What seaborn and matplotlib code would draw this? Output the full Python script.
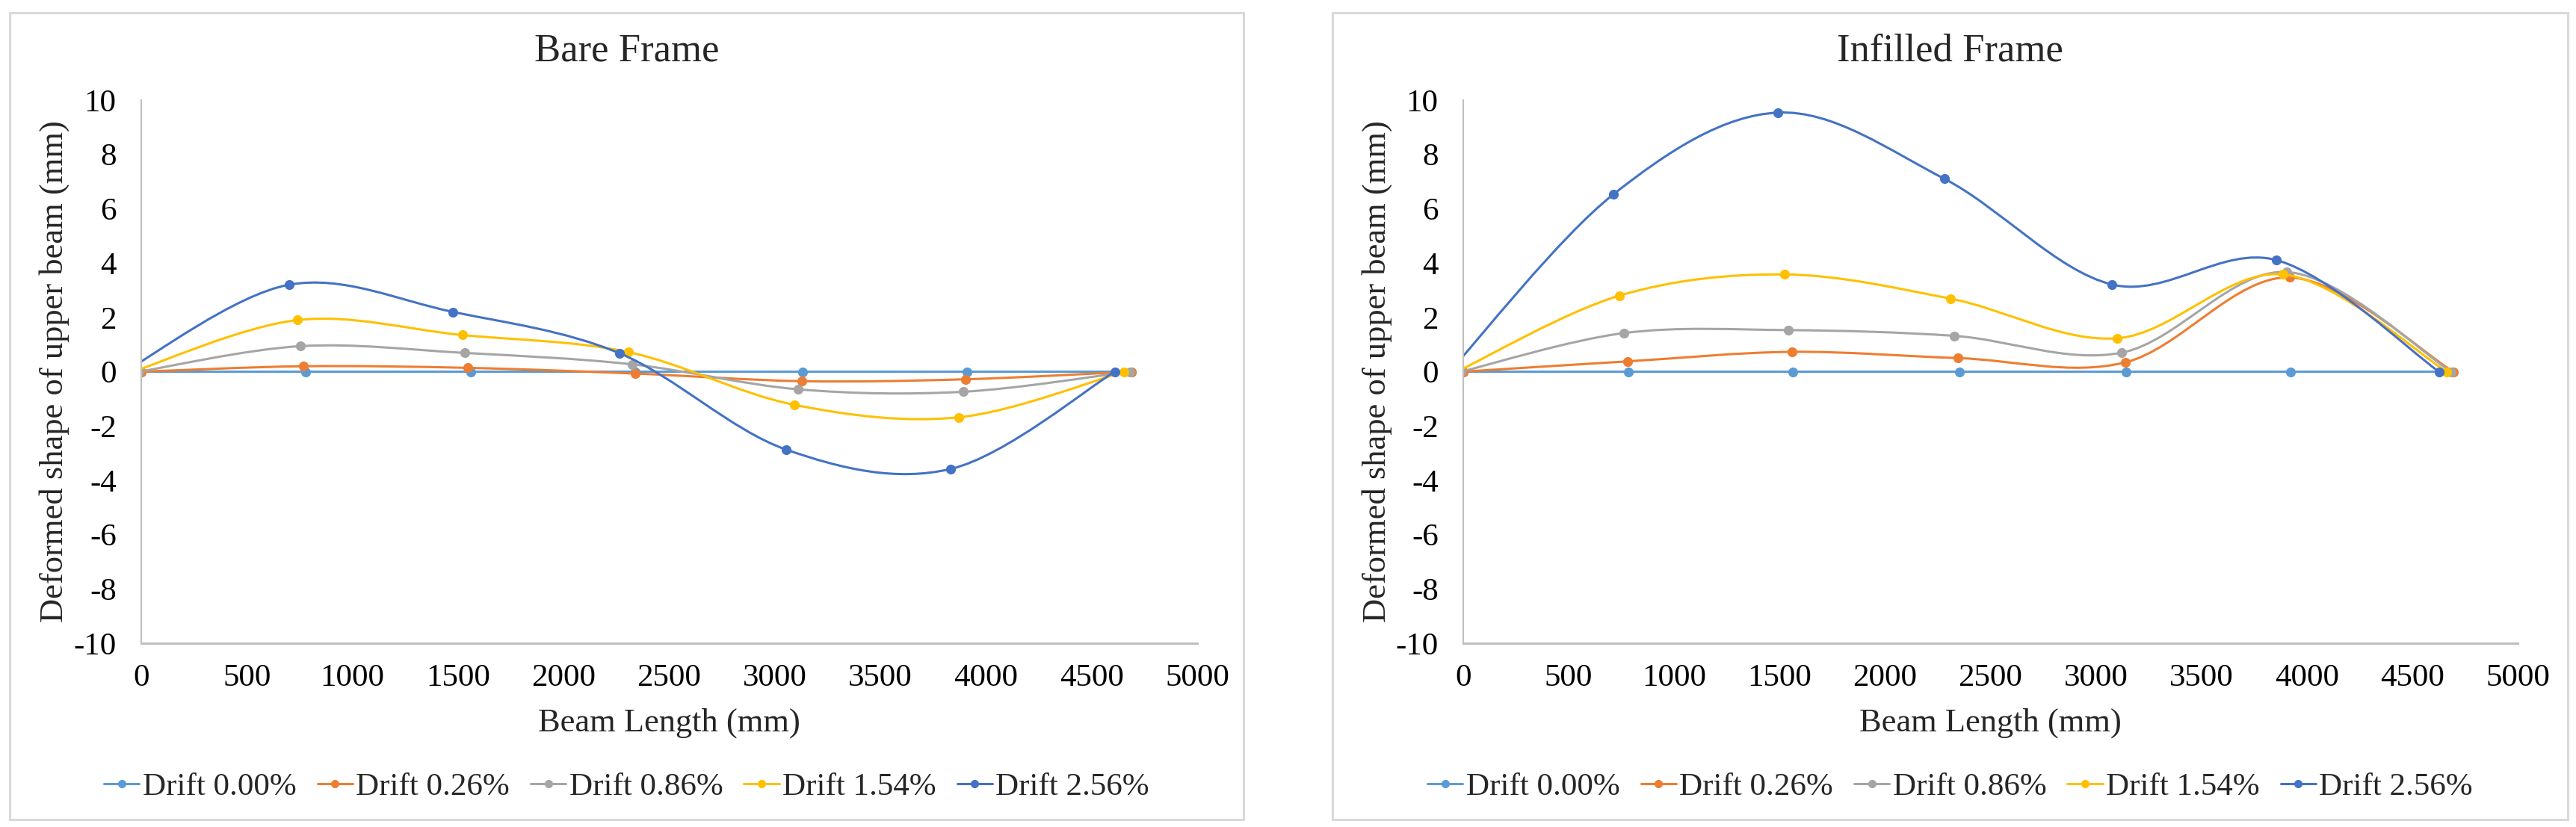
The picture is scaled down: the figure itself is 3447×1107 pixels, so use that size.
import numpy as np
import pandas as pd
import matplotlib
matplotlib.use("Agg")
import matplotlib.pyplot as plt
import seaborn as sns
from matplotlib.path import Path
from matplotlib.patches import PathPatch, Rectangle
from matplotlib.lines import Line2D

# ---- data (x = deformed node position, y = deflection) ----
series_names = ["Drift 0.00%", "Drift 0.26%", "Drift 0.86%", "Drift 1.54%", "Drift 2.56%"]
colors = ["#5B9BD5", "#ED7D31", "#A5A5A5", "#FFC000", "#4472C4"]

bare_x_000 = [0, 780, 1560, 2340, 3130, 3910, 4690]
bare_y_000 = [0, 0, 0, 0, 0, 0, 0]
bare_x_026 = [0, 769, 1547, 2340, 3128, 3903, 4690]
bare_y_026 = [0, 0.20, 0.14, -0.07, -0.35, -0.28, 0]
bare_x_086 = [-10, 754, 1532, 2324, 3111, 3891, 4680]
bare_y_086 = [0, 0.94, 0.69, 0.27, -0.65, -0.74, 0]
bare_x_154 = [-40, 740, 1520, 2307, 3092, 3872, 4654]
bare_y_154 = [0, 1.90, 1.35, 0.72, -1.22, -1.68, 0]
bare_x_256 = [-80, 699, 1476, 2264, 3054, 3834, 4610]
bare_y_256 = [0, 3.20, 2.20, 0.68, -2.87, -3.58, 0]

infill_x_000 = [0, 782, 1563, 2352, 3142, 3922, 4690]
infill_y_000 = [0, 0, 0, 0, 0, 0, 0]
infill_x_026 = [0, 780, 1558, 2347, 3138, 3918, 4695]
infill_y_026 = [0, 0.38, 0.73, 0.50, 0.34, 3.47, 0]
infill_x_086 = [-10, 761, 1541, 2327, 3122, 3905, 4685]
infill_y_086 = [0, 1.42, 1.53, 1.32, 0.70, 3.67, 0]
infill_x_154 = [-30, 741, 1522, 2310, 3101, 3887, 4664]
infill_y_154 = [0, 2.80, 3.58, 2.69, 1.23, 3.58, 0]
infill_x_256 = [-65, 712, 1493, 2282, 3076, 3855, 4627]
infill_y_256 = [0, 6.53, 9.54, 7.10, 3.21, 4.11, 0]

x_ticks = [0, 500, 1000, 1500, 2000, 2500, 3000, 3500, 4000, 4500, 5000]
y_ticks = [-10, -8, -6, -4, -2, 0, 2, 4, 6, 8, 10]

bare = [(bare_x_000, bare_y_000), (bare_x_026, bare_y_026), (bare_x_086, bare_y_086),
        (bare_x_154, bare_y_154), (bare_x_256, bare_y_256)]
infill = [(infill_x_000, infill_y_000), (infill_x_026, infill_y_026), (infill_x_086, infill_y_086),
          (infill_x_154, infill_y_154), (infill_x_256, infill_y_256)]

rows = []
for frame, group in [("Bare Frame", bare), ("Infilled Frame", infill)]:
    for name, (xs, ys) in zip(series_names, group):
        for x, y in zip(xs, ys):
            rows.append({"frame": frame, "series": name, "x": x, "y": y})
df = pd.DataFrame(rows)

sns.set_style("white")
plt.rcParams["font.family"] = ["Liberation Serif", "DejaVu Serif"]
plt.rcParams["axes.unicode_minus"] = False


def smooth_path(xs, ys):
    # Excel-style smoothed line: cubic bezier through the points
    p = np.column_stack([xs, ys]).astype(float)
    n = len(p)
    verts = [p[0]]
    codes = [Path.MOVETO]
    for i in range(n - 1):
        prev = p[i - 1] if i > 0 else p[i]
        nxt = p[i + 2] if i + 2 < n else p[i + 1]
        c1 = p[i] + (p[i + 1] - prev) / 6
        c2 = p[i + 1] - (nxt - p[i]) / 6
        verts += [c1, c2, p[i + 1]]
        codes += [Path.CURVE4] * 3
    return Path(verts, codes)


W, H = 3447, 1107
fig = plt.figure(figsize=(W / 100, H / 100), dpi=100)

panels = [("Bare Frame", 13, 1664, 189, 1602), ("Infilled Frame", 1783, 3436, 1958, 3369)]
ax_top, ax_bot = 134, 861

for title, bx0, bx1, axx0, axx1 in panels:
    fig.patches.append(Rectangle((bx0 / W, 1 - 1097 / H), (bx1 - bx0) / W, (1097 - 17) / H,
                                 transform=fig.transFigure, fill=False,
                                 edgecolor="#D9D9D9", linewidth=2.2))
    ax = fig.add_axes([axx0 / W, 1 - ax_bot / H, (axx1 - axx0) / W, (ax_bot - ax_top) / H])
    sub = df[df["frame"] == title]
    for k, name in enumerate(series_names):
        s = sub[sub["series"] == name]
        patch = PathPatch(smooth_path(s["x"].values, s["y"].values), facecolor="none",
                          edgecolor=colors[k], linewidth=2.2, zorder=2 + k * 0.1)
        ax.add_patch(patch)
        sns.scatterplot(data=s, x="x", y="y", color=colors[k], s=90, edgecolor=colors[k],
                        linewidth=0, legend=False, ax=ax, zorder=2.05 + k * 0.1)

    ax.set_xlim(0, 5000)
    ax.set_ylim(-10, 10)
    ax.set_xticks(x_ticks)
    ax.set_yticks(y_ticks)
    ax.tick_params(axis="both", length=0, labelsize=31, colors="black")
    ax.tick_params(axis="x", pad=20)
    ax.tick_params(axis="y", pad=24)
    for sp in ["top", "right"]:
        ax.spines[sp].set_visible(False)
    ax.spines["left"].set_color("#BFBFBF")
    ax.spines["left"].set_linewidth(1.5)
    ax.spines["bottom"].set_color("#BFBFBF")
    ax.spines["bottom"].set_linewidth(2.2)

    ax.set_xlabel("Beam Length (mm)", fontsize=32, va="center")
    ax.xaxis.set_label_coords(0.5, -(968 - ax_bot) / (ax_bot - ax_top))
    ax.set_ylabel("Deformed shape of upper beam (mm)", fontsize=32, va="center")
    ax.yaxis.set_label_coords(-(axx0 - (bx0 + 60)) / (axx1 - axx0), 0.5)

    cx = (bx0 + bx1) / 2 / W
    fig.text(cx, 1 - 68 / H, title, fontsize=38, ha="center", va="center")

    handles = [Line2D([0], [0], color=c, linewidth=2.2, marker="o", markersize=7) for c in colors]
    fig.legend(handles, series_names, loc="center", bbox_to_anchor=(cx, 1 - 1053 / H),
               ncol=5, frameon=False, fontsize=31, handlelength=1.1, handletextpad=0.1,
               columnspacing=0.65)

fig.savefig("out.png", dpi=100)
